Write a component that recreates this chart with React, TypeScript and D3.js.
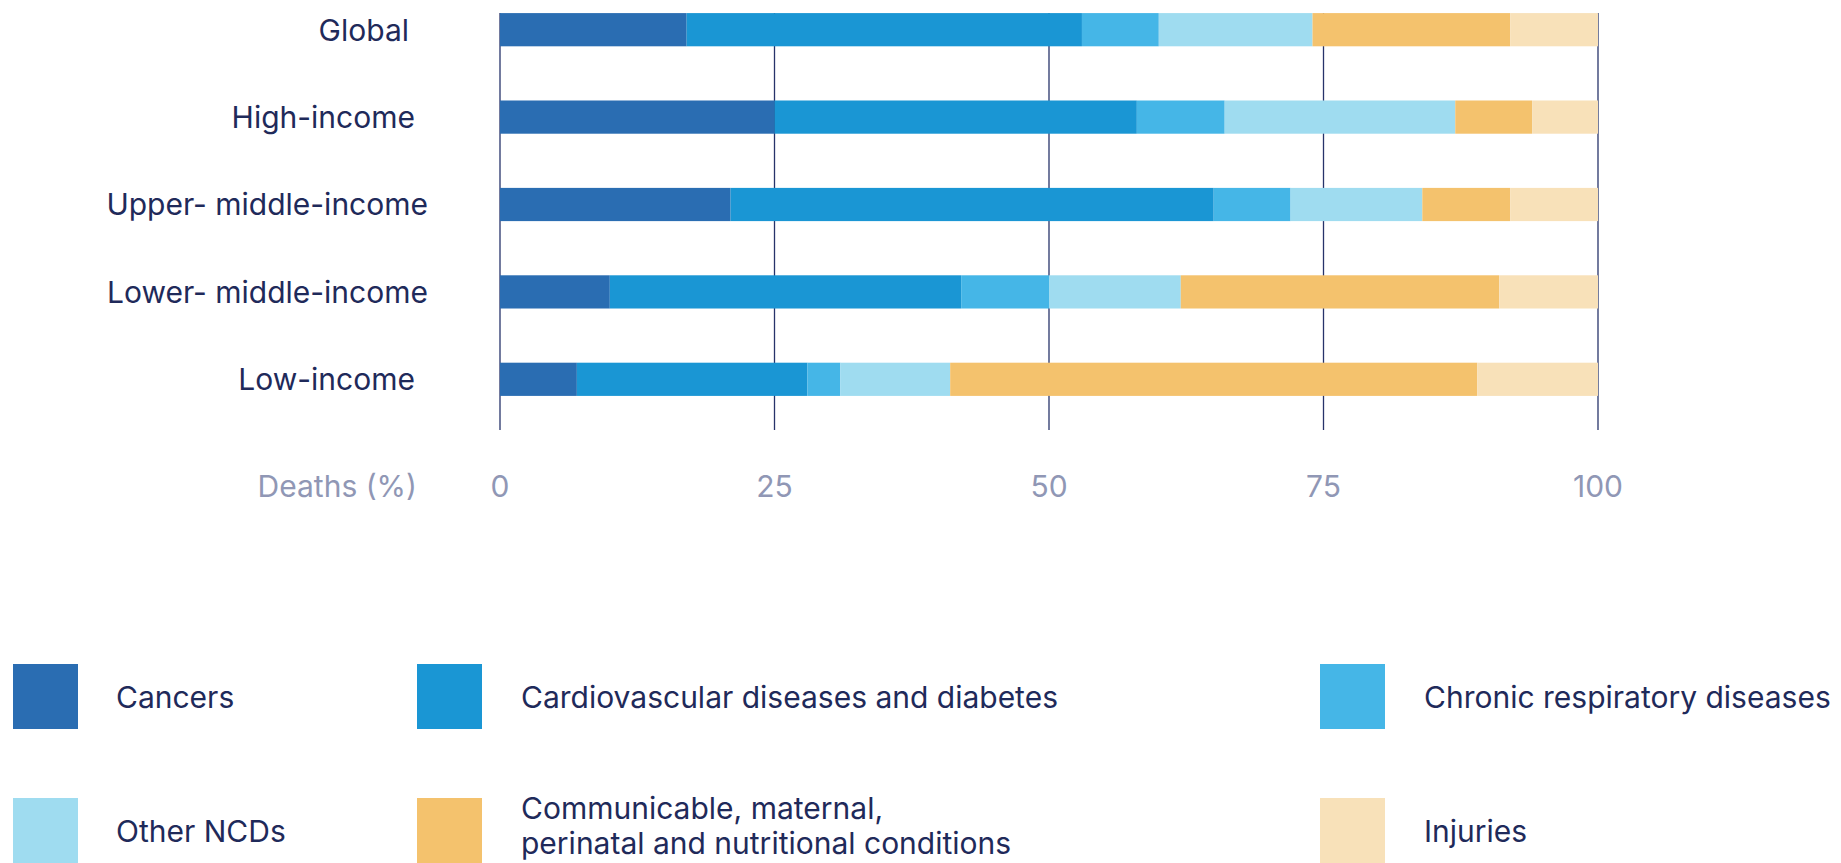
import React from "react";
import * as d3 from "d3";

const categories = ["Global", "High-income", "Upper- middle-income", "Lower- middle-income", "Low-income"];
const seriesNames = [
  "Cancers",
  "Cardiovascular diseases and diabetes",
  "Chronic respiratory diseases",
  "Other NCDs",
  "Communicable, maternal, perinatal and nutritional conditions",
  "Injuries",
];
const cancers = [17, 25, 21, 10, 7];
const cardiovascular = [36, 33, 44, 32, 21];
const chronicRespiratory = [7, 8, 7, 8, 3];
const otherNCDs = [14, 21, 12, 12, 10];
const communicable = [18, 7, 8, 29, 48];
const injuries = [8, 6, 8, 9, 11];
const xTicks = [0, 25, 50, 75, 100];
const xAxisTitle = "Deaths (%)";

const colors = ["#2a6db2", "#1a96d4", "#45b6e7", "#9fdcf0", "#f4c26d", "#f8e1b9"];
const labelShift = [-19, -13, 0, 0, -13];

const W = 1841;
const H = 863;
const FONT = "Inter, 'Noto Sans', sans-serif";
const NAVY = "#1f2a5a";
const GREY = "#9097b5";

export default function App() {
  const series = [cancers, cardiovascular, chronicRespiratory, otherNCDs, communicable, injuries];
  const rows = categories.map((c, i) => {
    const r: any = { cat: c };
    seriesNames.forEach((s, j) => (r[s] = series[j][i]));
    return r;
  });
  const stack = d3.stack<any>().keys(seriesNames)(rows);

  const x = d3.scaleLinear().domain([0, 100]).range([500, 1598]);
  const y = d3.scaleBand().domain(categories).range([-14, 423]).paddingInner(0.62).paddingOuter(0.31);

  const legendItems = seriesNames.map((name, i) => ({ name, color: colors[i], col: i % 3, row: Math.floor(i / 3) }));
  const legendX = [13, 417, 1320];
  const legendY = [664, 798];
  const legendTextX = [116, 521, 1424];
  const legendLines: Record<string, string[]> = {
    [seriesNames[4]]: ["Communicable, maternal,", "perinatal and nutritional conditions"],
  };

  return (
    <div style={{ position: "absolute", left: 0, top: 0 }}>
      <svg width={W} height={H} style={{ display: "block" }} fontFamily={FONT}>
        <rect width={W} height={H} fill="#fff" />
        {xTicks.map((t) => (
          <line key={t} x1={x(t)} x2={x(t)} y1={13} y2={430} stroke="#27336a" strokeWidth={1.3} />
        ))}
        {stack.map((layer, j) => (
          <g key={layer.key} fill={colors[j]}>
            {layer.map((d, i) => (
              <rect
                key={i}
                x={x(d[0])}
                width={x(d[1]) - x(d[0])}
                y={y(categories[i])!}
                height={y.bandwidth()}
              />
            ))}
          </g>
        ))}
        {categories.map((c, i) => (
          <text
            key={c}
            x={428 + labelShift[i]}
            y={y(c)! + y.bandwidth() / 2}
            dy="0.36em"
            textAnchor="end"
            fontSize={30}
            fill={NAVY}
          >
            {c}
          </text>
        ))}
        {xTicks.map((t) => (
          <text key={t} x={x(t)} y={497} textAnchor="middle" fontSize={30} fill={GREY}>
            {t}
          </text>
        ))}
        <text x={417} y={497} textAnchor="end" fontSize={30} fill={GREY}>
          {xAxisTitle}
        </text>
        {legendItems.map((it) => {
          const lines = legendLines[it.name] || [it.name];
          const sy = legendY[it.row];
          const cy = lines.length > 1 ? sy + 28 : sy + 33;
          return (
            <g key={it.name}>
              <rect x={legendX[it.col]} y={sy} width={65} height={65} fill={it.color} />
              {lines.map((ln, k) => (
                <text
                  key={k}
                  x={legendTextX[it.col]}
                  y={cy + (k - (lines.length - 1) / 2) * 35}
                  dy="0.36em"
                  fontSize={30}
                  fill={NAVY}
                >
                  {ln}
                </text>
              ))}
            </g>
          );
        })}
      </svg>
    </div>
  );
}
